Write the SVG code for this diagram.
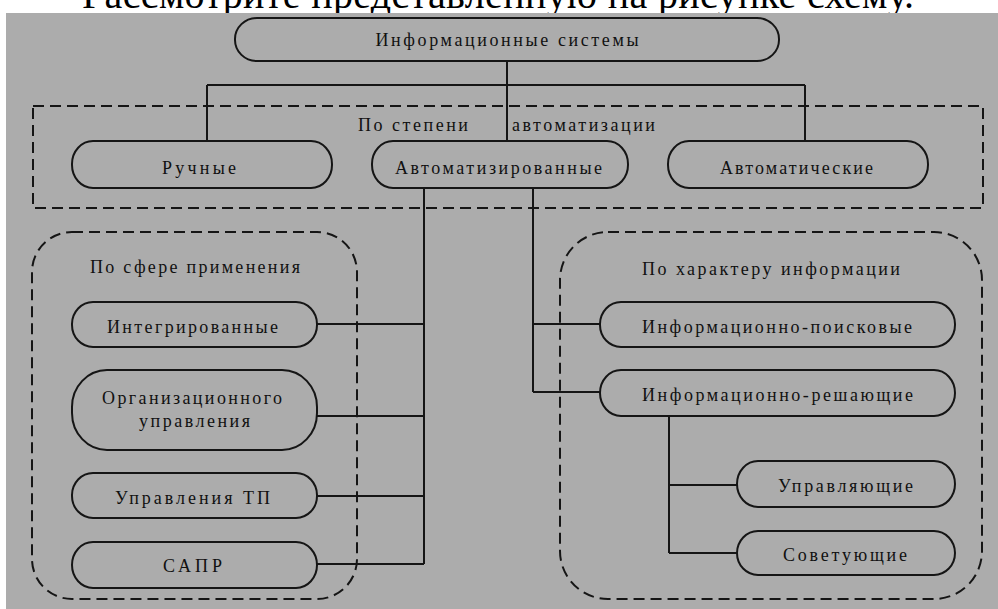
<svg xmlns="http://www.w3.org/2000/svg" width="998" height="609" viewBox="0 0 998 609">
<style>
.t{font-family:"Liberation Serif","Times New Roman",serif;font-size:18px;fill:#111;text-anchor:middle}
.n{fill:none;stroke:#151515;stroke-width:2}
.d{fill:none;stroke:#151515;stroke-width:2;stroke-dasharray:11 6}
.c{fill:none;stroke:#151515;stroke-width:2}
</style>
<rect x="0" y="0" width="998" height="609" fill="#ffffff"/>
<text x="82" y="8" font-family="Liberation Serif, Times New Roman, serif" font-size="40" fill="#000" textLength="832" lengthAdjust="spacing">Рассмотрите представленную на рисунке схему.</text>
<rect x="6" y="13" width="992" height="596" fill="#acacac"/>

<g id="group-automation">
<rect class="d" x="33" y="106" width="950" height="102"/>
<text class="t" x="413" y="131" textLength="110" lengthAdjust="spacing">По степени</text>
<text class="t" x="583.5" y="131" textLength="143" lengthAdjust="spacing">автоматизации</text>
</g>
<g id="group-sphere">
<rect class="d" x="32" y="232" width="325" height="367" rx="40" ry="40"/>
<text class="t" x="195" y="273" textLength="210" lengthAdjust="spacing">По сфере применения</text>
</g>
<g id="group-character">
<rect class="d" x="560" y="232" width="422" height="367" rx="48" ry="48"/>
<text class="t" x="771" y="275" textLength="258" lengthAdjust="spacing">По характеру информации</text>
</g>

<g id="connectors">
<path class="c" d="M507 61 V141 M207 85 H805 M207 85 V141 M805 85 V141"/>
<path class="c" d="M424 188 V564 M317 324 H424 M317 416 H424 M317 496 H424 M317 564 H424"/>
<path class="c" d="M533 188 V392 M533 324 H600 M533 392 H600"/>
<path class="c" d="M669 416 V553 M669 485 H737 M669 553 H737"/>
</g>

<g id="node-is">
<rect class="n" x="235" y="18" width="544" height="43" rx="22" ry="21"/>
<text class="t" x="507" y="46" textLength="263" lengthAdjust="spacing">Информационные системы</text>
</g>
<g id="node-manual">
<rect class="n" x="72" y="141" width="260" height="47" rx="21" ry="23"/>
<text class="t" x="199" y="174" textLength="74" lengthAdjust="spacing">Ручные</text>
</g>
<g id="node-automated">
<rect class="n" x="372" y="141" width="256" height="47" rx="21" ry="23"/>
<text class="t" x="498.5" y="174" textLength="207" lengthAdjust="spacing">Автоматизированные</text>
</g>
<g id="node-automatic">
<rect class="n" x="668" y="141" width="260" height="47" rx="21" ry="23"/>
<text class="t" x="796.5" y="174" textLength="153" lengthAdjust="spacing">Автоматические</text>
</g>
<g id="node-integrated">
<rect class="n" x="72" y="302" width="245" height="45" rx="21" ry="22"/>
<text class="t" x="192.5" y="333" textLength="171" lengthAdjust="spacing">Интегрированные</text>
</g>
<g id="node-org">
<rect class="n" x="72" y="370" width="245" height="80" rx="35" ry="37"/>
<text class="t" x="192" y="404" textLength="180" lengthAdjust="spacing">Организационного</text>
<text class="t" x="194.5" y="427" textLength="111" lengthAdjust="spacing">управления</text>
</g>
<g id="node-tp">
<rect class="n" x="72" y="473" width="245" height="45" rx="21" ry="22"/>
<text class="t" x="192.5" y="504" textLength="155" lengthAdjust="spacing">Управления ТП</text>
</g>
<g id="node-sapr">
<rect class="n" x="72" y="542" width="245" height="46" rx="21" ry="23"/>
<text class="t" x="192.5" y="572" textLength="59" lengthAdjust="spacing">САПР</text>
</g>
<g id="node-search">
<rect class="n" x="600" y="302" width="355" height="45" rx="21" ry="22"/>
<text class="t" x="777" y="333" textLength="270" lengthAdjust="spacing">Информационно-поисковые</text>
</g>
<g id="node-solving">
<rect class="n" x="600" y="370" width="355" height="46" rx="21" ry="23"/>
<text class="t" x="777.5" y="401" textLength="271" lengthAdjust="spacing">Информационно-решающие</text>
</g>
<g id="node-control">
<rect class="n" x="737" y="461" width="218" height="46" rx="21" ry="23"/>
<text class="t" x="845.5" y="492" textLength="135" lengthAdjust="spacing">Управляющие</text>
</g>
<g id="node-advise">
<rect class="n" x="737" y="531" width="218" height="44" rx="21" ry="22"/>
<text class="t" x="845" y="561" textLength="124" lengthAdjust="spacing">Советующие</text>
</g>
</svg>
